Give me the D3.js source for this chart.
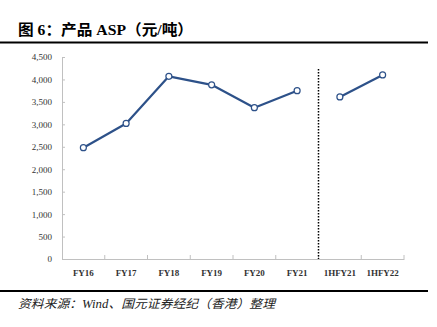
<!DOCTYPE html>
<html><head><meta charset="utf-8">
<script src="https://cdn.jsdelivr.net/npm/d3@7"></script>
<style>html,body{margin:0;padding:0;background:#fff;}</style>
</head><body>
<svg id="c" width="437" height="327"></svg>
<script>
const categories = ["FY16","FY17","FY18","FY19","FY20","FY21","1HFY21","1HFY22"];
const annualValues = [2480, 3020, 4070, 3880, 3370, 3750];
const halfYearValues = [3610, 4100];
const yTicks = [0,500,1000,1500,2000,2500,3000,3500,4000,4500];
const titleText = "图 6：产品 ASP（元/吨）";
const sourceText = "资料来源：Wind、国元证券经纪（香港）整理";

(function(){
const svg = d3.select("#c");
const mLeft = 62, mRight = 404, mTop = 57, mBottom = 259;
const x = d3.scaleBand().domain(categories).range([mLeft, mRight]);
const y = d3.scaleLinear().domain([0, 4500]).range([mBottom, mTop]);
const color = "#2D5189";
const serif = "'Liberation Serif','Times New Roman','Noto Sans CJK SC',serif";

// title
svg.append("text").attr("x", 18).attr("y", 35)
  .attr("font-family", serif).attr("font-weight", "bold").attr("font-size", 15)
  .attr("textLength", 175).attr("lengthAdjust", "spacingAndGlyphs")
  .attr("fill", "#000").text(titleText);
svg.append("line").attr("x1", 0).attr("x2", 428).attr("y1", 42.5).attr("y2", 42.5)
  .attr("stroke", "#000").attr("stroke-width", 2);
svg.append("line").attr("x1", 0).attr("x2", 428).attr("y1", 291).attr("y2", 291)
  .attr("stroke", "#000").attr("stroke-width", 2);
svg.append("text").attr("x", 18).attr("y", 308)
  .attr("font-family", serif).attr("font-style", "italic").attr("font-size", 12)
  .attr("textLength", 257).attr("lengthAdjust", "spacingAndGlyphs")
  .attr("fill", "#222").text(sourceText);

// y axis
const yAxis = d3.axisLeft(y).tickValues(yTicks).tickSize(-3).tickPadding(10)
  .tickFormat(d3.format(","));
const ga = svg.append("g").attr("transform", `translate(${mLeft},0)`).call(yAxis);
ga.select(".domain").attr("stroke", "#c0c0c0");
ga.selectAll(".tick line").attr("stroke", "#c0c0c0");
ga.selectAll("text").attr("font-family", serif).attr("font-size", 9).attr("fill", "#333");

// x axis
const xAxis = d3.axisBottom(x).tickSize(0).tickPadding(10);
const gx = svg.append("g").attr("transform", `translate(0,${mBottom})`).call(xAxis);
gx.select(".domain").attr("stroke", "#c0c0c0");
gx.selectAll("text").attr("font-family", serif).attr("font-size", 9)
  .attr("font-weight", "bold").attr("fill", "#333").attr("dy", "0.75em");
// boundary ticks (upward)
const bounds = categories.map(c => x(c)).concat([mRight]).slice(1);
svg.selectAll(".bt").data(bounds).enter().append("line")
  .attr("x1", d => d).attr("x2", d => d).attr("y1", mBottom - 4).attr("y2", mBottom)
  .attr("stroke", "#c0c0c0");

// dotted separator
const sepX = x(categories[6]);
svg.append("line").attr("x1", sepX).attr("x2", sepX).attr("y1", 69).attr("y2", mBottom)
  .attr("stroke", "#000").attr("stroke-width", 1.5).attr("stroke-dasharray", "1.5,1.5");

const line = d3.line().x(d => x(d.c) + x.bandwidth()/2).y(d => y(d.v));
const s1 = annualValues.map((v,i) => ({c: categories[i], v}));
const s2 = halfYearValues.map((v,i) => ({c: categories[6+i], v}));
[s1, s2].forEach(s => {
  svg.append("path").datum(s).attr("d", line).attr("fill", "none")
    .attr("stroke", color).attr("stroke-width", 2.2).attr("stroke-linejoin", "round");
  svg.selectAll(null).data(s).enter().append("circle")
    .attr("cx", d => x(d.c) + x.bandwidth()/2).attr("cy", d => y(d.v)).attr("r", 3)
    .attr("fill", "#fff").attr("stroke", color).attr("stroke-width", 1.2);
});
})();
</script>
</body></html>
